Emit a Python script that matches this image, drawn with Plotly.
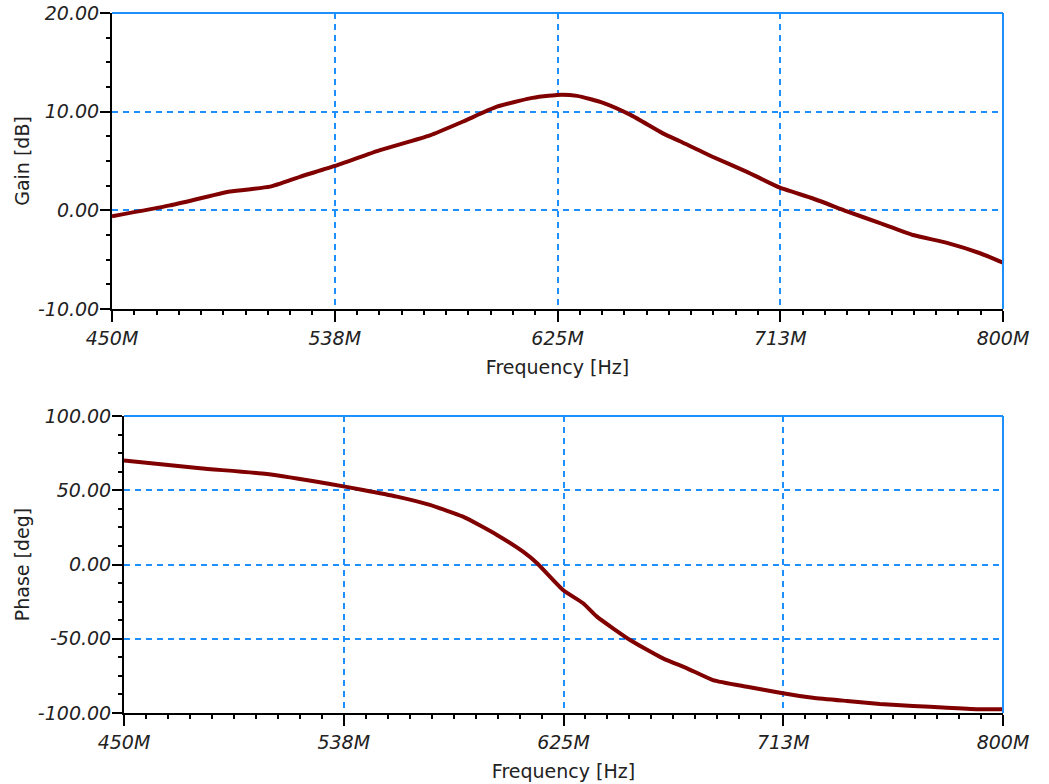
import plotly.graph_objects as go

# ---- data (frequencies in MHz) ----
gain_freq = [450.0, 472.8, 496.4, 512.1, 523.8, 537.6, 555.3, 574.9, 587.9, 601.2,
             614.2, 624.8, 632.7, 642.9, 653.5, 666.4, 673.1, 686.1, 699.4, 712.4,
             725.4, 738.7, 751.7, 764.6, 778.0, 791.0, 800.0]
gain_db = [-0.6, 0.5, 1.9, 2.4, 3.4, 4.5, 6.1, 7.6, 9.0, 10.5,
           11.35, 11.7, 11.6, 10.9, 9.7, 7.8, 7.0, 5.4, 3.9, 2.3,
           1.2, -0.1, -1.3, -2.5, -3.3, -4.35, -5.3]

phase_freq = [450.0, 480.3, 506.9, 532.0, 545.2, 558.7, 571.8, 585.0, 598.5, 608.9,
              614.5, 624.8, 632.8, 638.3, 651.5, 664.6, 674.2, 684.5, 698.1, 711.2,
              724.3, 737.9, 751.0, 764.2, 777.7, 790.8, 800.0]
phase_deg = [70.0, 64.8, 60.9, 54.2, 50.2, 45.7, 40.1, 32.2, 19.9, 8.6,
             0.8, -17.2, -26.1, -35.1, -50.8, -63.2, -69.9, -77.8, -82.3, -86.3,
             -89.7, -91.9, -93.9, -95.3, -96.4, -97.4, -97.4]

x_tickvals = [450, 537.5, 625, 712.5, 800]
x_ticktext = ["450M", "538M", "625M", "713M", "800M"]
gain_ticks = [-10, 0, 10, 20]
gain_ticktext = ["-10.00", "0.00", "10.00", "20.00"]
phase_ticks = [-100, -50, 0, 50, 100]
phase_ticktext = ["-100.00", "-50.00", "0.00", "50.00", "100.00"]

# ---- styling ----
CURVE = "#800000"
BLUE = "#1e8fff"
FONT = "DejaVu Sans"
TICKFONT = dict(family=FONT, size=19, color="#222222", style="italic")
TITLEFONT = dict(family=FONT, size=19, color="#222222")

fig = go.Figure()
fig.add_trace(go.Scatter(x=gain_freq, y=gain_db, mode="lines", xaxis="x", yaxis="y",
                         line=dict(color=CURVE, width=4, shape="spline", smoothing=0.5),
                         showlegend=False))
fig.add_trace(go.Scatter(x=phase_freq, y=phase_deg, mode="lines", xaxis="x2", yaxis="y2",
                         line=dict(color=CURVE, width=4, shape="spline", smoothing=0.5),
                         showlegend=False))

W, H = 1049, 784


def px_x(p):
    return p / W


def px_y(p):
    return 1 - p / H


def xaxis_cfg(domain, anchor):
    return dict(
        domain=domain, anchor=anchor, range=[450, 800], automargin=False,
        tickmode="array", tickvals=x_tickvals, ticktext=x_ticktext,
        ticks="outside", ticklen=11, tickwidth=1.5, tickcolor="black",
        ticklabelstandoff=0, ticklabeloverflow="allow",
        minor=dict(tickmode="linear", tick0=450, dtick=8.75, ticks="outside",
                   ticklen=4, tickwidth=1.5, tickcolor="black", showgrid=False),
        showline=True, linecolor="black", linewidth=2, mirror=False,
        showgrid=True, gridcolor=BLUE, gridwidth=1.5, griddash="6px,5px",
        zeroline=False, tickfont=TICKFONT,
        title=dict(text="Frequency [Hz]", font=TITLEFONT, standoff=13),
    )


def yaxis_cfg(domain, anchor, rng, ticks, ticktext, minor_dtick, title):
    return dict(
        domain=domain, anchor=anchor, range=rng, automargin=False,
        tickmode="array", tickvals=ticks, ticktext=ticktext,
        ticks="outside", ticklen=10, tickwidth=1.5, tickcolor="black",
        ticklabelstandoff=-3, ticklabeloverflow="allow",
        minor=dict(tickmode="linear", tick0=rng[0], dtick=minor_dtick, ticks="outside",
                   ticklen=4, tickwidth=1.5, tickcolor="black", showgrid=False),
        showline=True, linecolor="black", linewidth=2, mirror=False,
        showgrid=True, gridcolor=BLUE, gridwidth=1.5, griddash="6px,5px",
        zeroline=False, tickfont=TICKFONT,
        title=dict(text=title, font=TITLEFONT, standoff=3),
    )


fig.update_layout(
    width=W, height=H,
    margin=dict(l=0, r=0, t=0, b=0),
    paper_bgcolor="white", plot_bgcolor="white",
    xaxis=xaxis_cfg([px_x(112), px_x(1003)], "y"),
    yaxis=yaxis_cfg([px_y(309), px_y(13)], "x", [-10, 20], gain_ticks, gain_ticktext,
                    2.5, "Gain [dB]"),
    xaxis2=xaxis_cfg([px_x(124), px_x(1003)], "y2"),
    yaxis2=yaxis_cfg([px_y(713), px_y(416)], "x2", [-100, 100], phase_ticks,
                     phase_ticktext, 12.5, "Phase [deg]"),
)

# blue top / right frame lines
for xr, yr in (("x domain", "y domain"), ("x2 domain", "y2 domain")):
    fig.add_shape(type="line", xref=xr, yref=yr, x0=0, x1=1, y0=1, y1=1,
                  line=dict(color=BLUE, width=2), layer="above")
    fig.add_shape(type="line", xref=xr, yref=yr, x0=1, x1=1, y0=0, y1=1,
                  line=dict(color=BLUE, width=2), layer="above")

fig.write_html("out.html",
               config={"displayModeBar": False},
               post_script="document.body.style.margin='0';document.body.style.overflow='hidden';")
